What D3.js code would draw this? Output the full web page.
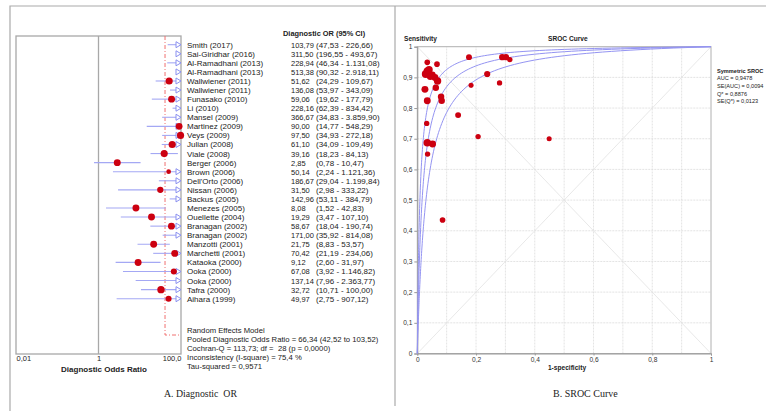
<!DOCTYPE html>
<html>
<head>
<meta charset="utf-8">
<script src="https://cdn.jsdelivr.net/npm/d3@7"></script>
<style>
body { margin: 0; background: #fff; }
svg text { font-family: Arial, "Liberation Sans", sans-serif; }
</style>
</head>
<body>
<div id="chart"></div>
<script>
// Forest plot data (diagnostic odds ratio, 95% CI)
var studies = ["Smith (2017)", "Sai-Giridhar (2016)", "Al-Ramadhani (2013)", "Al-Ramadhani (2013)",
    "Wallwiener (2011)", "Wallwiener (2011)", "Funasako (2010)", "Li (2010)", "Mansel (2009)",
    "Martinez (2009)", "Veys (2009)", "Julian (2008)", "Viale (2008)", "Berger (2006)", "Brown (2006)",
    "Dell'Orto (2006)", "Nissan (2006)", "Backus (2005)", "Menezes (2005)", "Ouellette (2004)",
    "Branagan (2002)", "Branagan (2002)", "Manzotti (2001)", "Marchetti (2001)", "Kataoka (2000)",
    "Ooka (2000)", "Ooka (2000)", "Tafra (2000)", "Aihara (1999)"];
var dor = [103.79, 311.50, 228.94, 513.38, 51.62, 136.08, 59.06, 228.16, 366.67, 90.00, 97.50, 61.10,
    39.16, 2.85, 50.14, 186.67, 31.50, 142.96, 8.08, 19.29, 58.67, 171.00, 21.75, 70.42, 9.12, 67.08,
    137.14, 32.72, 49.97];
var ciLow = [47.53, 196.55, 46.34, 90.32, 24.29, 53.97, 19.62, 62.39, 34.83, 14.77, 34.93, 34.09,
    18.23, 0.78, 2.24, 29.04, 2.98, 53.11, 1.52, 3.47, 18.04, 35.92, 8.83, 21.19, 2.60, 3.92, 7.96,
    10.71, 2.75];
var ciHigh = [226.66, 493.67, 1131.08, 2918.11, 109.67, 343.09, 177.79, 834.42, 3859.90, 548.29,
    272.18, 109.49, 84.13, 10.47, 1121.36, 1199.84, 333.22, 384.79, 42.83, 107.10, 190.74, 814.08,
    53.57, 234.06, 31.97, 1146.82, 2363.77, 100.00, 907.12];
var studyWeight = [3, 3, 3, 3, 3.2, 3, 3, 3, 3, 2.9, 3.2, 3.2, 3.2, 3, 1.4, 3, 2.5, 3, 3, 3,
    3, 3, 3, 3, 3, 2.3, 3, 3.4, 2.3];
var forestTicks = [0.01, 1, 100];
var forestTickLabels = ["0,01", "1", "100,0"];
var pooledLineOR = 41;
var summaryLines = ["Random Effects Model",
    "Pooled Diagnostic Odds Ratio = 66,34 (42,52 to 103,52)",
    "Cochran-Q = 113,73; df =  28 (p = 0,0000)",
    "Inconsistency (I-square) = 75,4 %",
    "Tau-squared = 0,9571"];

// SROC data (1-specificity, sensitivity, relative weight)
var fpr = [0.176, 0.289, 0.302, 0.315, 0.034, 0.067, 0.035, 0.029, 0.040, 0.051, 0.060, 0.069, 0.238,
    0.280, 0.183, 0.026, 0.063, 0.034, 0.081, 0.083, 0.139, 0.032, 0.207, 0.449, 0.034, 0.052, 0.035,
    0.086, 0.044];
var tpr = [0.966, 0.966, 0.966, 0.958, 0.949, 0.943, 0.920, 0.911, 0.925, 0.908, 0.900, 0.888, 0.911,
    0.882, 0.874, 0.861, 0.866, 0.824, 0.837, 0.824, 0.777, 0.750, 0.707, 0.700, 0.687, 0.683, 0.650,
    0.435, 0.903];
var pointWeight = [2.2, 2.4, 2.4, 1.8, 2, 2, 4, 4, 3.4, 3, 3, 3.4, 2.4, 1.8, 1.6, 3, 2.6, 3, 2.6,
    2.6, 2.2, 1.8, 1.8, 1.6, 3.6, 3, 1.8, 2, 3];
var srocDOR = [112, 60, 33];   // central curve and its two bounds
var srocLegend = ["Symmetric SROC", "AUC = 0,9478", "SE(AUC) = 0,0094", "Q* = 0,8876", "SE(Q*) = 0,0123"];

var loc = d3.formatLocale({decimal: ",", thousands: ".", grouping: [3], currency: ["", ""]});
var fmt2 = loc.format(",.2f");
var fmtAxis = loc.format("~g");

var svg = d3.select("#chart").append("svg")
    .attr("width", 766)
    .attr("height", 411);

svg.append("rect").attr("width", 766).attr("height", 411).attr("fill", "#fff");

// panel frames
svg.append("path")
    .attr("d", "M10,411V6H766")
    .attr("fill", "none")
    .attr("stroke", "#aaa")
    .attr("stroke-width", 1.2);
svg.append("line")
    .attr("x1", 395).attr("x2", 395).attr("y1", 6).attr("y2", 406)
    .attr("stroke", "#aaa")
    .attr("stroke-width", 1.2);

// ---------- A. forest plot ----------
var x = d3.scaleLog().domain([0.01, 100]).range([16, 181]);
var y = d3.scalePoint().domain(d3.range(studies.length)).range([44.7, 298.7]);
var rScale = d3.scaleSqrt().domain([0, 4]).range([0, 4]);

var forest = svg.append("g");

forest.append("rect")
    .attr("x", 16).attr("y", 36).attr("width", 165).attr("height", 318)
    .attr("fill", "none").attr("stroke", "#a8a8a8").attr("stroke-width", 1.3);

forest.append("line")
    .attr("x1", x(1)).attr("x2", x(1)).attr("y1", 36).attr("y2", 354)
    .attr("stroke", "#a8a8a8").attr("stroke-width", 1.3);

forest.append("path")
    .attr("d", "M" + x(pooledLineOR) + ",36V335H181")
    .attr("fill", "none")
    .attr("stroke", "#f07070")
    .attr("stroke-width", 1)
    .attr("stroke-dasharray", "4,2,1,2");

var rows = forest.selectAll("g.row")
    .data(d3.range(studies.length))
    .enter().append("g").classed("row", true);

rows.filter(function(i) { return ciLow[i] < 100; })
    .append("line")
    .attr("x1", function(i) { return x(Math.max(ciLow[i], 0.01)); })
    .attr("x2", function(i) { return x(Math.min(ciHigh[i], 100)); })
    .attr("y1", function(i) { return y(i); })
    .attr("y2", function(i) { return y(i); })
    .attr("stroke", "#a4a8f4")
    .attr("stroke-width", 1.1);

rows.filter(function(i) { return ciHigh[i] >= 100; })
    .append("path")
    .attr("d", function(i) {
        var tip = x(100), yy = y(i);
        return "M" + (tip - 5) + "," + (yy - 3) + "L" + tip + "," + yy + "L" + (tip - 5) + "," + (yy + 3) + "Z";
    })
    .attr("fill", "#fff")
    .attr("stroke", "#8a90f0")
    .attr("stroke-width", 1);

rows.filter(function(i) { return dor[i] < 100; })
    .append("circle")
    .attr("cx", function(i) { return x(dor[i]); })
    .attr("cy", function(i) { return y(i); })
    .attr("r", function(i) { return rScale(studyWeight[i]); })
    .attr("fill", "#cc0010");

var fxAxis = d3.axisBottom(x)
    .tickValues(forestTicks)
    .tickSize(0)
    .tickPadding(0)
    .tickFormat(function(d, i) { return forestTickLabels[i]; });
var fxg = forest.append("g")
    .attr("transform", "translate(0,354)")
    .call(fxAxis);
fxg.select(".domain").remove();
fxg.selectAll("text")
    .attr("y", 7)
    .attr("dy", 0)
    .attr("font-size", 7.5)
    .attr("fill", "#222")
    .style("font-family", "Arial, 'Liberation Sans', sans-serif")
    .attr("text-anchor", function(d, i) { return i === 0 ? "start" : (i === forestTicks.length - 1 ? "end" : "middle"); });

forest.append("text")
    .attr("x", 104).attr("y", 372)
    .attr("text-anchor", "middle")
    .attr("font-size", 8).attr("font-weight", "bold").attr("fill", "#222")
    .text("Diagnostic Odds Ratio");

// study table
forest.append("text")
    .attr("x", 283).attr("y", 35.5)
    .attr("font-size", 7.4).attr("font-weight", "bold").attr("fill", "#222")
    .text("Diagnostic OR (95% CI)");

rows.append("text")
    .attr("x", 187)
    .attr("y", function(i) { return y(i) + 3; })
    .attr("font-size", 8).attr("fill", "#222")
    .text(function(i) { return studies[i]; });
rows.append("text")
    .attr("x", 291)
    .attr("y", function(i) { return y(i) + 3; })
    .attr("font-size", 7.5).attr("fill", "#222")
    .text(function(i) { return fmt2(dor[i]); });
rows.append("text")
    .attr("x", 316)
    .attr("y", function(i) { return y(i) + 3; })
    .attr("font-size", 8).attr("fill", "#222")
    .text(function(i) { return "(" + fmt2(ciLow[i]) + " - " + fmt2(ciHigh[i]) + ")"; });

forest.selectAll("text.summary")
    .data(summaryLines)
    .enter().append("text")
    .classed("summary", true)
    .attr("x", 187)
    .attr("y", function(d, i) { return 333 + i * 9; })
    .attr("font-size", 7.7).attr("fill", "#222")
    .style("white-space", "pre")
    .text(function(d) { return d; });

svg.append("text")
    .attr("x", 164).attr("y", 397)
    .attr("font-size", 9.8)
    .style("font-family", "'Liberation Serif', 'DejaVu Serif', serif")
    .style("white-space", "pre")
    .attr("fill", "#222")
    .text("A. Diagnostic  OR");

// ---------- B. SROC curve ----------
var sx = d3.scaleLinear().domain([0, 1]).range([417.3, 711]);
var sy = d3.scaleLinear().domain([0, 1]).range([353.5, 46.7]);
var sroc = svg.append("g");
var gridVals = d3.range(1, 10).map(function(i) { return i / 10; });

sroc.selectAll("line.vg").data(gridVals).enter().append("line")
    .attr("x1", sx).attr("x2", sx).attr("y1", sy(0)).attr("y2", sy(1))
    .attr("stroke", "#dcdcdc").attr("stroke-width", 0.8).attr("stroke-dasharray", "2,1");
sroc.selectAll("line.hg").data(gridVals).enter().append("line")
    .attr("y1", sy).attr("y2", sy).attr("x1", sx(0)).attr("x2", sx(1))
    .attr("stroke", "#dcdcdc").attr("stroke-width", 0.8).attr("stroke-dasharray", "2,1");

sroc.append("line")
    .attr("x1", sx(0)).attr("y1", sy(0)).attr("x2", sx(1)).attr("y2", sy(1))
    .attr("stroke", "#e2e2e2").attr("stroke-width", 0.8);
sroc.append("line")
    .attr("x1", sx(0)).attr("y1", sy(1)).attr("x2", sx(1)).attr("y2", sy(0))
    .attr("stroke", "#e2e2e2").attr("stroke-width", 0.8);

sroc.append("rect")
    .attr("x", sx(0)).attr("y", sy(1))
    .attr("width", sx(1) - sx(0)).attr("height", sy(0) - sy(1))
    .attr("fill", "none").attr("stroke", "#b0b0b0").attr("stroke-width", 1);

var yAxis = d3.axisLeft(sy)
    .tickValues(d3.range(0, 11).map(function(i) { return i / 10; }))
    .tickSize(3).tickPadding(2)
    .tickFormat(fmtAxis);
var yg = sroc.append("g").attr("transform", "translate(" + sx(0) + ",0)").call(yAxis);
var xAxis = d3.axisBottom(sx)
    .tickValues([0, 0.2, 0.4, 0.6, 0.8, 1])
    .tickSize(2).tickPadding(2)
    .tickFormat(fmtAxis);
var xg = sroc.append("g").attr("transform", "translate(0," + sy(0) + ")").call(xAxis);
[yg, xg].forEach(function(g) {
    g.select(".domain").attr("stroke", "#999");
    g.selectAll(".tick line").attr("stroke", "#999");
    g.selectAll("text").attr("font-size", 6.6).attr("fill", "#333")
        .style("font-family", "Arial, 'Liberation Sans', sans-serif");
});

// symmetric SROC curves: logit(TPR) - logit(FPR) = ln(DOR)
var fGrid = [0].concat(d3.range(-4.5, 0.0001, 0.02).map(function(e) { return Math.pow(10, e); }));
var curveLine = d3.line()
    .x(function(d) { return sx(d[0]); })
    .y(function(d) { return sy(d[1]); });
sroc.selectAll("path.sroc")
    .data(srocDOR)
    .enter().append("path")
    .classed("sroc", true)
    .attr("d", function(D) {
        return curveLine(fGrid.map(function(f) {
            if (f >= 1) return [1, 1];
            var o = D * f / (1 - f);
            return [f, o / (1 + o)];
        }));
    })
    .attr("fill", "none")
    .attr("stroke", "#9494f2")
    .attr("stroke-width", 1);

sroc.selectAll("circle.pt")
    .data(d3.range(fpr.length))
    .enter().append("circle")
    .classed("pt", true)
    .attr("cx", function(i) { return sx(fpr[i]); })
    .attr("cy", function(i) { return sy(tpr[i]); })
    .attr("r", function(i) { return rScale(pointWeight[i]); })
    .attr("fill", "#cc0010");

sroc.append("text")
    .attr("x", 404).attr("y", 41)
    .attr("font-size", 6.6).attr("font-weight", "bold").attr("fill", "#222")
    .text("Sensitivity");
sroc.append("text")
    .attr("x", 548).attr("y", 41)
    .attr("font-size", 6.6).attr("font-weight", "bold").attr("fill", "#222")
    .text("SROC Curve");
sroc.append("text")
    .attr("x", 567).attr("y", 370)
    .attr("text-anchor", "middle")
    .attr("font-size", 6.6).attr("font-weight", "bold").attr("fill", "#222")
    .text("1-specificity");

sroc.selectAll("text.legend")
    .data(srocLegend)
    .enter().append("text")
    .classed("legend", true)
    .attr("x", 717)
    .attr("y", function(d, i) { return 72.5 + i * 7.7; })
    .attr("font-size", 5.6)
    .attr("font-weight", function(d, i) { return i === 0 ? "bold" : "normal"; })
    .attr("fill", "#222")
    .text(function(d) { return d; });

svg.append("text")
    .attr("x", 553).attr("y", 397)
    .attr("font-size", 10)
    .style("font-family", "'Liberation Serif', 'DejaVu Serif', serif")
    .attr("fill", "#222")
    .text("B. SROC Curve");
</script>
</body>
</html>
